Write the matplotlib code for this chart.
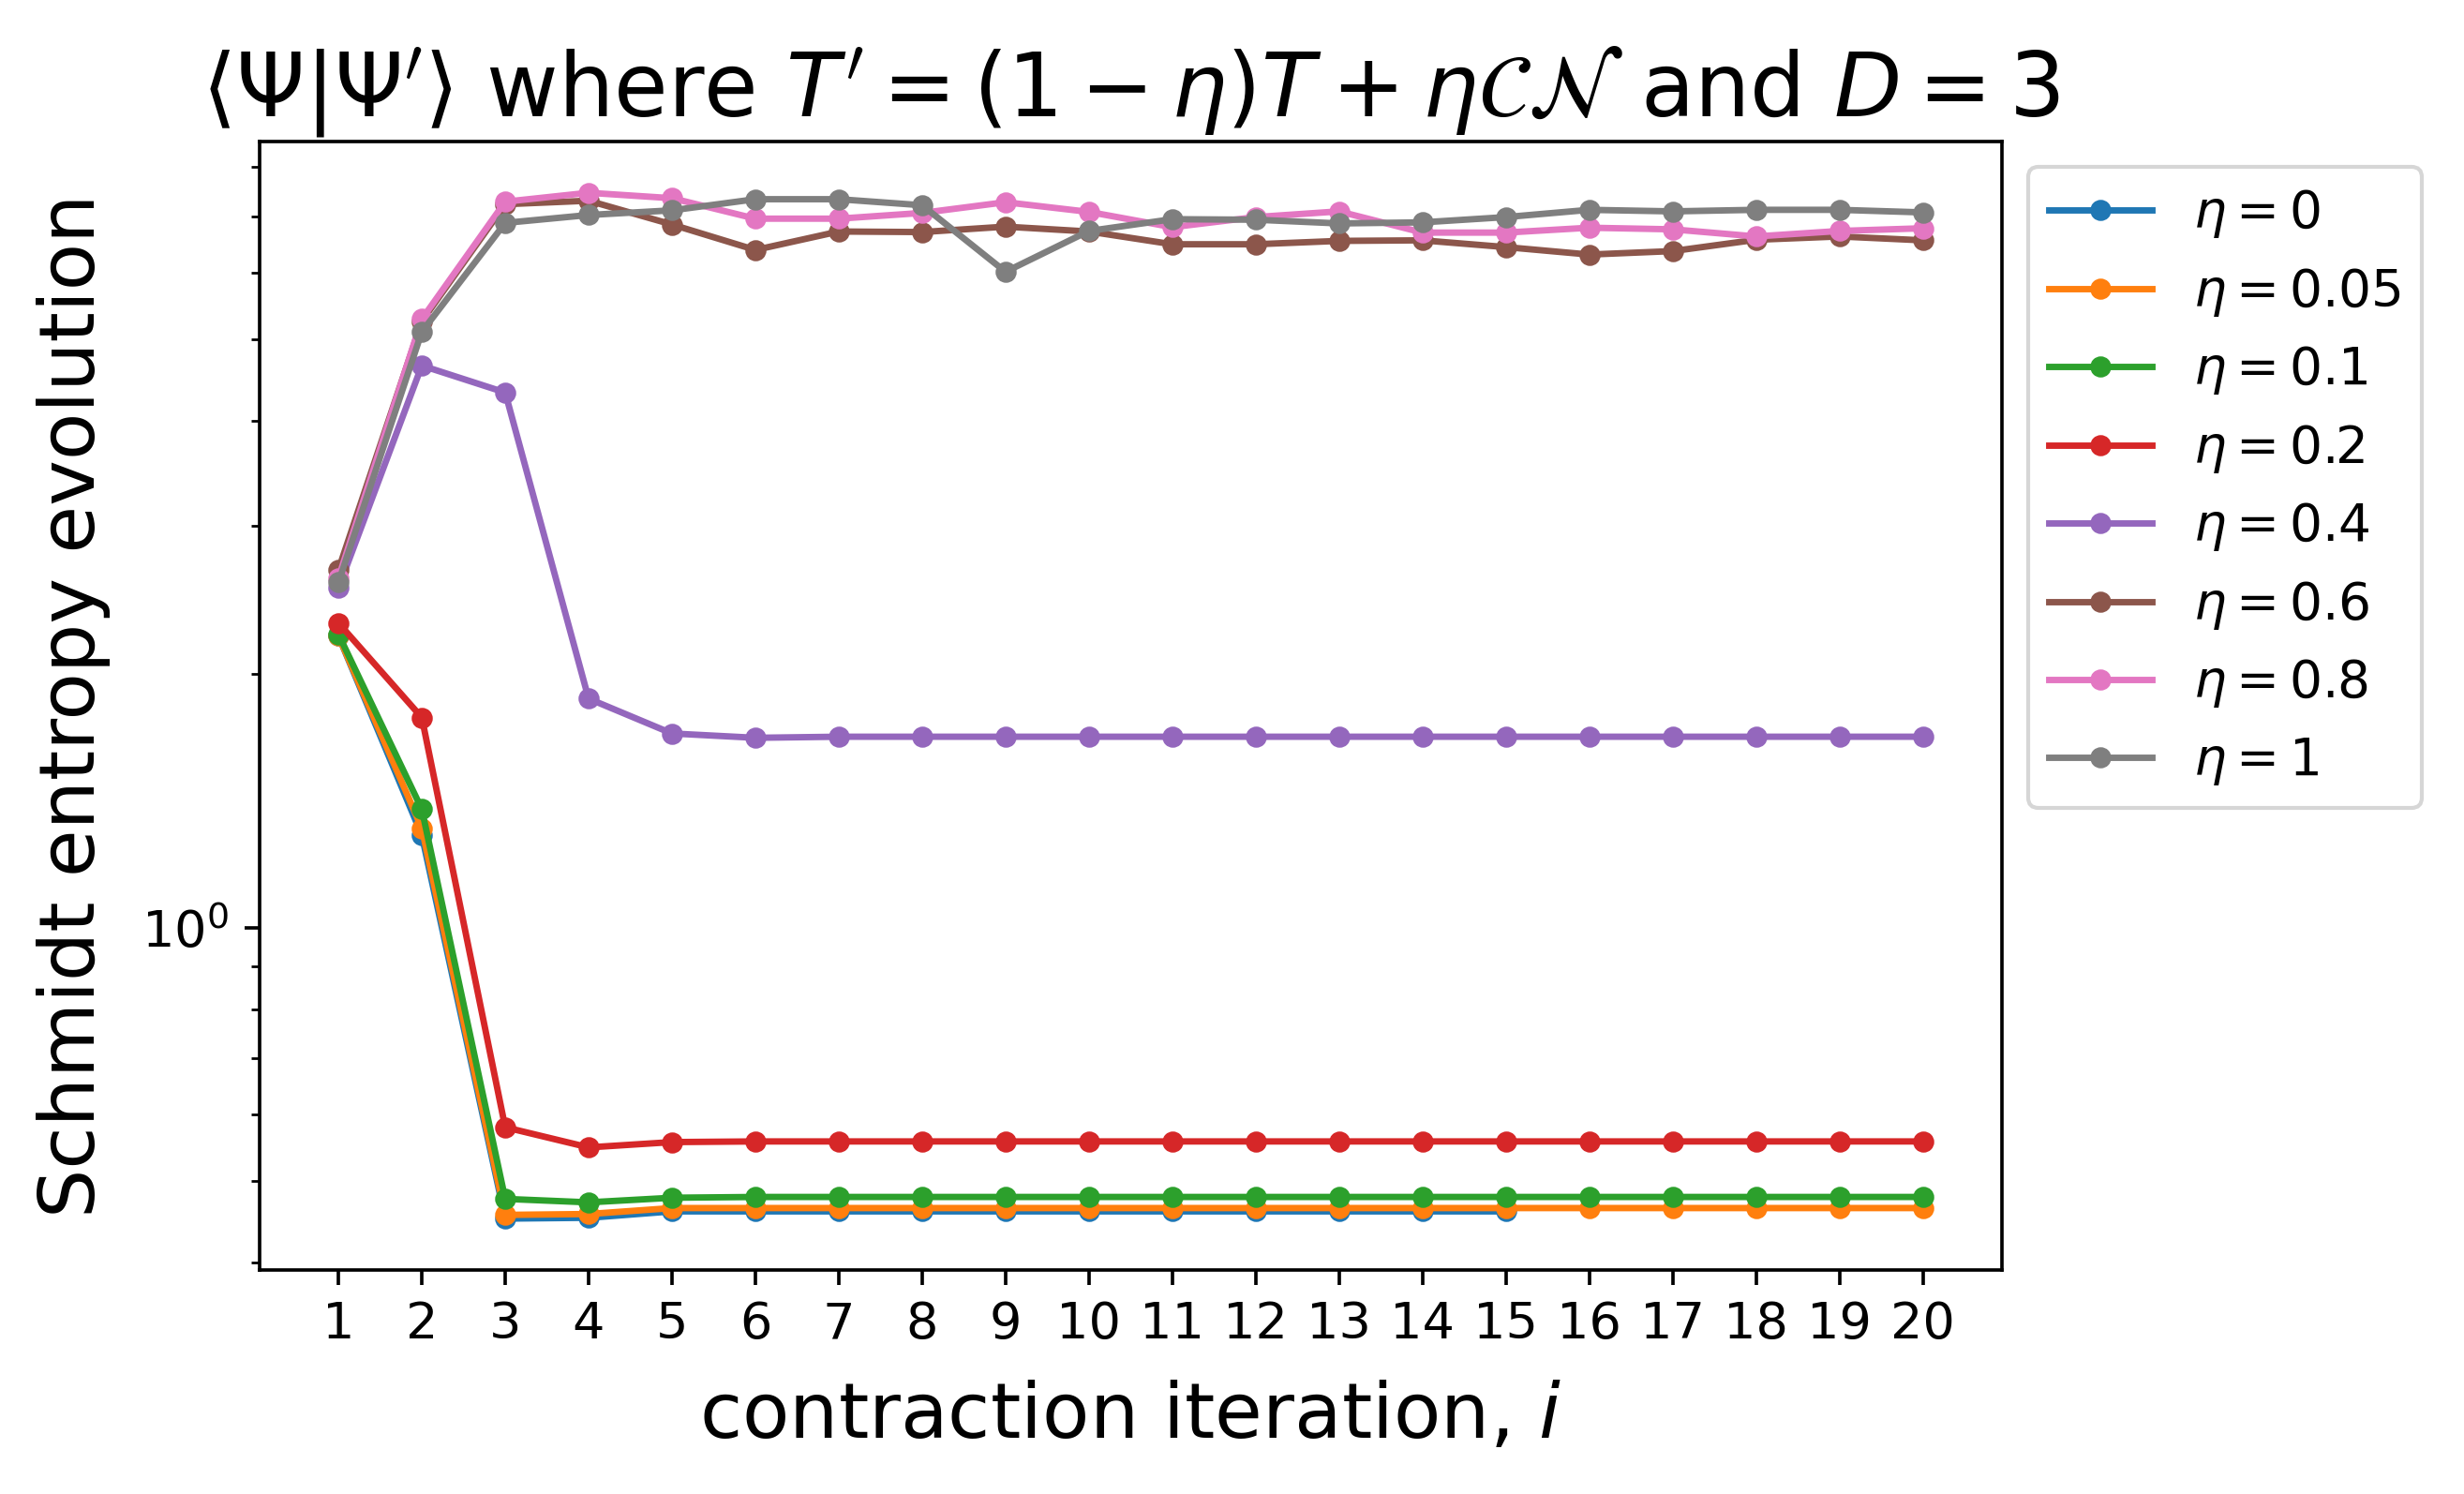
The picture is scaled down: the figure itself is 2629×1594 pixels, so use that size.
import matplotlib
matplotlib.use("Agg")
import matplotlib.pyplot as plt

# values (log-scaled y)
etas = ["0", "0.05", "0.1", "0.2", "0.4", "0.6", "0.8", "1"]

s_eta0 = [2.22, 1.287, 0.451, 0.452, 0.4600, 0.4600, 0.4600, 0.4600, 0.4600,
          0.4600, 0.4600, 0.4600, 0.4600, 0.4600, 0.4600]
s_eta005 = [2.22, 1.312, 0.4556, 0.4567, 0.4642, 0.4642, 0.4642, 0.4642, 0.4642,
            0.4642, 0.4642, 0.4642, 0.4642, 0.4642, 0.4642, 0.4642, 0.4642,
            0.4642, 0.4642, 0.4642]
s_eta01 = [2.23, 1.382, 0.476, 0.4715, 0.4775, 0.4785, 0.4785, 0.4785, 0.4785,
           0.4785, 0.4785, 0.4785, 0.4785, 0.4785, 0.4785, 0.4785, 0.4785,
           0.4785, 0.4785, 0.4785]
s_eta02 = [2.30, 1.776, 0.579, 0.548, 0.556, 0.557, 0.557, 0.557, 0.557, 0.557,
           0.557, 0.557, 0.557, 0.557, 0.557, 0.557, 0.557, 0.557, 0.557, 0.557]
s_eta04 = [2.53, 4.65, 4.32, 1.87, 1.70, 1.68, 1.685, 1.685, 1.685, 1.685,
           1.685, 1.685, 1.685, 1.685, 1.685, 1.685, 1.685, 1.685, 1.685, 1.685]
s_eta06 = [2.66, 5.25, 7.23, 7.30, 6.84, 6.38, 6.71, 6.70, 6.80, 6.71,
           6.48, 6.48, 6.54, 6.55, 6.43, 6.30, 6.36, 6.56, 6.62, 6.55]
s_eta08 = [2.60, 5.28, 7.28, 7.46, 7.35, 6.95, 6.95, 7.06, 7.27, 7.08,
           6.79, 6.98, 7.09, 6.69, 6.69, 6.78, 6.75, 6.62, 6.72, 6.77]
s_eta1 = [2.57, 5.10, 6.87, 7.02, 7.11, 7.33, 7.33, 7.21, 6.01, 6.72,
          6.94, 6.93, 6.86, 6.88, 6.98, 7.12, 7.09, 7.12, 7.12, 7.07]

series = [s_eta0, s_eta005, s_eta01, s_eta02, s_eta04, s_eta06, s_eta08, s_eta1]

k = 1.1  # reference was rendered a bit larger than 300 dpi
plt.rcParams["axes.linewidth"] = 0.8 * k
plt.rcParams["xtick.major.width"] = 0.8 * k
plt.rcParams["ytick.major.width"] = 0.8 * k
plt.rcParams["ytick.minor.width"] = 0.6 * k
plt.rcParams["xtick.major.size"] = 3.5 * k
plt.rcParams["ytick.major.size"] = 3.5 * k
plt.rcParams["ytick.minor.size"] = 2 * k
plt.rcParams["xtick.major.pad"] = 3.5 * k
plt.rcParams["ytick.major.pad"] = 3.5 * k

fig = plt.figure(figsize=(2629 / 300, 1594 / 300), dpi=300)
ax = fig.add_axes([0.1052, 0.150, 0.8125 - 0.1052, 0.9053 - 0.150])

for eta, vals in zip(etas, series):
    its = list(range(1, len(vals) + 1))
    ax.plot(its, vals, marker="o", markersize=4 * k, linewidth=1.5 * k,
            label=r"$\eta = %s$" % eta)

ax.set_yscale("log")
ax.set_xticks(range(1, 21))
ax.tick_params(labelsize=13)
ax.set_xlabel(r"contraction iteration, $i$", fontsize=18 * k, labelpad=8)
ax.set_ylabel("Schmidt entropy evolution", fontsize=18 * k, labelpad=8)
ax.set_title(r"$\langle \Psi | \Psi^\prime \rangle$ where "
             r"$T^\prime = (1-\eta)T + \eta \mathcal{C}\mathcal{N}$ and $D = 3$",
             fontsize=22.5, pad=6 * k)
ax.legend(loc="upper left", bbox_to_anchor=(1.0, 1.0), fontsize=12 * k)

fig.savefig("out.png", dpi=300)
